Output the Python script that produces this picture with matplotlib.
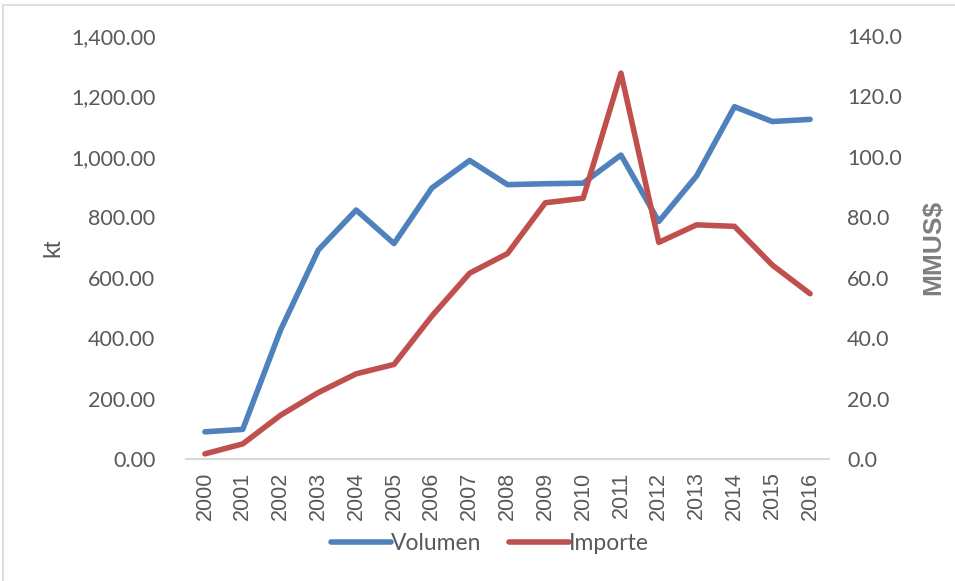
import matplotlib
matplotlib.use("Agg")
import matplotlib.pyplot as plt
from matplotlib.ticker import FuncFormatter
from matplotlib.patches import Rectangle

years = ["2000", "2001", "2002", "2003", "2004", "2005", "2006", "2007", "2008",
         "2009", "2010", "2011", "2012", "2013", "2014", "2015", "2016"]
volumen = [90, 98, 427, 692, 824, 713, 897, 988, 908, 911, 913, 1006, 786, 937, 1166, 1117, 1124]
importe = [1.7, 5.0, 14.5, 22.0, 28.2, 31.3, 47.3, 61.5, 68.0, 84.8, 86.3, 127.7, 71.7, 77.5, 77.0, 64.2, 54.7]
left_ticks = [0, 200, 400, 600, 800, 1000, 1200, 1400]
right_ticks = [0, 20, 40, 60, 80, 100, 120, 140]

blue = "#4f81bd"
red = "#c0504d"
tick_color = "#595959"

fig = plt.figure(figsize=(9.55, 5.81), dpi=100)
ax = fig.add_axes([186/955, 1-459/581, (829-186)/955, (459-36)/581])
ax2 = ax.twinx()

x = list(range(len(years)))
l1, = ax.plot(x, volumen, color=blue, lw=4, solid_capstyle="round", solid_joinstyle="round", label="Volumen")
l2, = ax2.plot(x, importe, color=red, lw=4, solid_capstyle="round", solid_joinstyle="round", label="Importe")

ax.set_xlim(-0.5, len(years)-0.5)
ax.set_ylim(0, 1400)
ax2.set_ylim(0, 140)
ax.set_yticks(left_ticks)
ax2.set_yticks(right_ticks)
ax.yaxis.set_major_formatter(FuncFormatter(lambda v, p: f"{v:,.2f}"))
ax2.yaxis.set_major_formatter(FuncFormatter(lambda v, p: f"{v:.1f}"))
ax.set_xticks(x)
ax.set_xticklabels(years, rotation=90, fontfamily="Liberation Sans", fontsize=15.5, color=tick_color)

for a in (ax, ax2):
    for s in a.spines.values():
        s.set_visible(False)
    a.tick_params(length=0)
ax.spines["bottom"].set_visible(True)
ax.spines["bottom"].set_color("#d9d9d9")
ax.spines["bottom"].set_linewidth(1.5)

for lab in ax.get_yticklabels():
    lab.set_fontfamily("Lato"); lab.set_fontsize(15.5); lab.set_color(tick_color)
for lab in ax2.get_yticklabels():
    lab.set_fontfamily("Lato"); lab.set_fontsize(15.5); lab.set_color(tick_color)
ax.tick_params(axis="y", pad=22)
ax2.tick_params(axis="y", pad=13)
ax.tick_params(axis="x", pad=9)

ax.set_ylabel("kt", fontfamily="Liberation Sans", fontsize=17, color=tick_color, labelpad=5)
ax2.set_ylabel("MMUS$", fontfamily="Liberation Sans", fontsize=19, color="#7f7f7f", labelpad=14, fontweight="bold")

fig.legend(handles=[l1, l2], labels=["Volumen", "Importe"], loc="center", bbox_to_anchor=(490/955, 1-544/581),
           ncol=2, frameon=False, handlelength=2.6, columnspacing=1.2, handletextpad=0.0,
           prop={"family": "Lato", "size": 16.5}, labelcolor=tick_color)

fig.patches.append(Rectangle((3/955, -0.05), 1.0, 1-5/581+0.05, transform=fig.transFigure,
                             fill=False, edgecolor="#d9d9d9", lw=1.2))

fig.savefig("out.png", dpi=100)
